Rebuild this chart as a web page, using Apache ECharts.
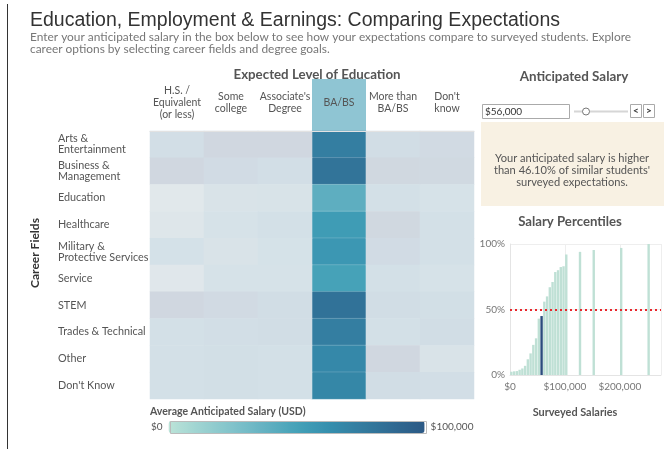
<!DOCTYPE html>
<html>
<head>
<meta charset="utf-8">
<script src="https://cdn.jsdelivr.net/npm/echarts/dist/echarts.min.js"></script>
<style>
  html, body { margin: 0; padding: 0; background: #fff; }
  #chart { width: 664px; height: 449px; }
</style>
</head>
<body>
<div id="chart"></div>
<script>
// categories
const educationLevels = ['H.S. /\nEquivalent\n(or less)', 'Some\ncollege', "Associate's\nDegree", 'BA/BS', 'More than\nBA/BS', "Don't\nknow"];
const careerFields = ['Arts &\nEntertainment', 'Business &\nManagement', 'Education', 'Healthcare',
  'Military &\nProtective Services', 'Service', 'STEM', 'Trades & Technical', 'Other', "Don't Know"];
const selectedLevel = 'BA/BS';

// average anticipated salary (USD), one array per education level, rows follow careerFields
const hsEquivalent = [60000, 85000, 25000, 30000, 50000, 27000, 85000, 52000, 52000, 52000];
const someCollege  = [85000, 70000, 40000, 45000, 40000, 45000, 75000, 60000, 56000, 58000];
const associates   = [85000, 60000, 42000, 55000, 48000, 45000, 65000, 64000, 53000, 54000];
const baBs         = [74000, 81000, 40000, 54000, 57000, 50000, 82000, 74000, 67000, 68000];
const moreThanBa   = [62000, 82000, 52000, 82000, 70000, 55000, 65000, 55000, 85000, 62000];
const dontKnow     = [75000, 80000, 45000, 55000, 52000, 45000, 58000, 63000, 40000, 60000];
const salaryColumns = [hsEquivalent, someCollege, associates, baBs, moreThanBa, dontKnow];

// salary percentiles of surveyed students (bin start in USD, cumulative share)
const salaryBins = [0, 5000, 10000, 15000, 20000, 25000, 30000, 35000, 40000, 45000, 50000, 55000,
  60000, 65000, 70000, 75000, 80000, 85000, 90000, 95000, 100000, 125000, 150000, 200000, 250000];
const percentiles = [0.025, 0.028, 0.03, 0.04, 0.05, 0.07, 0.12, 0.165, 0.23, 0.28, 0.43, 0.45,
  0.56, 0.60, 0.67, 0.71, 0.786, 0.80, 0.824, 0.83, 0.92, 0.94, 0.954, 0.97, 1.0];
const binWidth = 5000;
const anticipatedSalary = 56000;
const shareBelow = 46.10;

const FONT = 'Lato';
const palette = ['#bce4d8','#aedcd5','#a1d5d2','#95cecf','#89c8cc','#7ec1ca','#72bac6','#66b2c2','#59acbe','#4ba5ba',
  '#419eb6','#3b96b2','#358ead','#3586a7','#347ea1','#32779b','#316f96','#2f6790','#2d608a','#2c5985'];

// tableau fades the marks that are not selected
function fade(hex) {
  const bg = [248, 241, 243];
  const c = [1, 3, 5].map(i => parseInt(hex.substr(i, 2), 16));
  return 'rgb(' + c.map((v, i) => Math.round(0.2 * v + 0.8 * bg[i])).join(',') + ')';
}
const fadedPalette = palette.map(fade);

const selIdx = educationLevels.indexOf(selectedLevel);
const selectedCells = [], otherCells = [];
salaryColumns.forEach((col, x) => {
  col.forEach((v, y) => {
    (x === selIdx ? selectedCells : otherCells).push([x, y, v]);
  });
});

const barData = salaryBins.map((b, i) => ({
  value: [b + binWidth / 2, percentiles[i]],
  itemStyle: { color: (anticipatedSalary >= b && anticipatedSalary < b + binWidth) ? '#2b4c7d' : '#bfe0d5' }
}));

const chart = echarts.init(document.getElementById('chart'));

const txt = (x, y, text, font, fill, align, extra) => ({
  type: 'text', z: 10,
  style: Object.assign({ x: x, y: y, text: text, font: font, fill: fill, align: align || 'left', verticalAlign: 'middle' }, extra || {})
});

const option = {
  animation: false,
  textStyle: { fontFamily: FONT },
  grid: [
    { left: 150, top: 131, width: 324, height: 268 },
    { left: 510, top: 244, width: 154, height: 131 }
  ],
  xAxis: [
    {
      gridIndex: 0, type: 'category', data: educationLevels, position: 'top', z: 5,
      axisLine: { show: true, lineStyle: { color: '#e2e2e2' } },
      axisTick: { show: false },
      axisLabel: { interval: 0, margin: 28, verticalAlign: 'middle', lineHeight: 12, fontSize: 10.5, color: '#555', fontFamily: FONT }
    },
    {
      gridIndex: 1, type: 'value', min: 0, max: 275000, interval: 100000,
      axisLine: { show: true, lineStyle: { color: '#e4e4e4' } },
      axisTick: { show: false },
      splitLine: { show: true, lineStyle: { color: '#eeeeee' } },
      axisLabel: {
        fontSize: 10, color: '#777', margin: 7, fontFamily: FONT,
        formatter: v => v % 100000 === 0 ? '$' + v.toLocaleString('en-US') : ''
      }
    }
  ],
  yAxis: [
    {
      gridIndex: 0, type: 'category', data: careerFields, inverse: true,
      axisLine: { show: false }, axisTick: { show: false },
      axisLabel: { interval: 0, margin: 92, align: 'left', lineHeight: 11, fontSize: 10.8, color: '#555', fontFamily: FONT }
    },
    {
      gridIndex: 1, type: 'value', min: 0, max: 1, interval: 0.5,
      axisLine: { show: true, lineStyle: { color: '#e4e4e4' } },
      axisTick: { show: false },
      splitLine: { show: true, lineStyle: { color: '#eeeeee' } },
      axisLabel: { fontSize: 10, color: '#777', margin: 5, fontFamily: FONT, formatter: v => Math.round(v * 100) + '%' }
    }
  ],
  visualMap: [
    {
      type: 'continuous', seriesIndex: 0, min: 0, max: 100000, calculable: false, hoverLink: false,
      inRange: { color: palette },
      orient: 'horizontal', left: 151, top: 421, padding: 0,
      itemWidth: 12, itemHeight: 256, text: ['$100,000', '$0'], textGap: 6,
      textStyle: { color: '#555', fontSize: 10, fontFamily: FONT }
    },
    {
      type: 'continuous', seriesIndex: 1, min: 0, max: 100000, show: false,
      inRange: { color: fadedPalette }
    }
  ],
  series: [
    { type: 'heatmap', xAxisIndex: 0, yAxisIndex: 0, data: selectedCells, emphasis: { disabled: true },
      itemStyle: { borderColor: 'rgba(255,255,255,0.35)', borderWidth: 0.5 } },
    { type: 'heatmap', xAxisIndex: 0, yAxisIndex: 0, data: otherCells, emphasis: { disabled: true } },
    {
      type: 'bar', xAxisIndex: 1, yAxisIndex: 1, data: barData, barWidth: 2.4,
      markLine: {
        silent: true, symbol: 'none', label: { show: false },
        lineStyle: { color: '#e8262b', type: [2, 3], width: 2 },
        data: [{ yAxis: 0.5 }]
      }
    }
  ],
  graphic: [
    { type: 'line', shape: { x1: 7.5, y1: 4, x2: 7.5, y2: 449 }, style: { stroke: '#333', lineWidth: 1 } },
    txt(30, 21, 'Education, Employment & Earnings: Comparing Expectations', '19.5px "Liberation Sans"', '#333'),
    txt(30, 37, 'Enter your anticipated salary in the box below to see how your expectations compare to surveyed students. Explore', '11.9px ' + FONT, '#777'),
    txt(30, 49, 'career options by selecting career fields and degree goals.', '11.9px ' + FONT, '#777'),
    // highlight band behind the selected column header
    { type: 'rect', z: 0, shape: { x: 312, y: 79, width: 54, height: 52 }, style: { fill: '#8fc5d3' } },
    txt(317, 75, 'Expected Level of Education', 'bold 13.3px ' + FONT, '#555', 'center'),
    { type: 'text', z: 10, x: 35, y: 253, rotation: Math.PI / 2,
      style: { x: 0, y: 0, text: 'Career Fields', font: 'bold 12px ' + FONT, fill: '#333', align: 'center', verticalAlign: 'middle' } },
    txt(150, 412, 'Average Anticipated Salary (USD)', 'bold 10.5px ' + FONT, '#555'),
    { type: 'rect', z: 11, shape: { x: 170.5, y: 421.5, width: 256, height: 12 }, style: { fill: 'none', stroke: '#bbb', lineWidth: 1 } },
    // anticipated salary controls
    txt(574, 77, 'Anticipated Salary', 'bold 13.4px ' + FONT, '#555', 'center'),
    { type: 'rect', shape: { x: 482.5, y: 104.5, width: 87, height: 14 }, style: { fill: '#fff', stroke: '#aaa', lineWidth: 1 } },
    txt(485, 112, '$' + anticipatedSalary.toLocaleString('en-US'), '10px ' + FONT, '#333'),
    { type: 'line', shape: { x1: 574, y1: 111.5, x2: 628, y2: 111.5 }, style: { stroke: '#d6d6d6', lineWidth: 2 } },
    { type: 'circle', z: 11, shape: { cx: 586, cy: 111.5, r: 3.5 }, style: { fill: '#fff', stroke: '#777', lineWidth: 1 } },
    { type: 'rect', shape: { x: 630.5, y: 104.5, width: 11, height: 13 }, style: { fill: '#fff', stroke: '#aaa', lineWidth: 1 } },
    { type: 'rect', shape: { x: 643.5, y: 104.5, width: 11, height: 13 }, style: { fill: '#fff', stroke: '#aaa', lineWidth: 1 } },
    txt(636, 111, '<', 'bold 10px ' + FONT, '#333', 'center'),
    txt(649, 111, '>', 'bold 10px ' + FONT, '#333', 'center'),
    { type: 'rect', shape: { x: 481, y: 122, width: 183, height: 84 }, style: { fill: '#f8f1e3' } },
    txt(572, 158, 'Your anticipated salary is higher', '11.1px ' + FONT, '#555', 'center'),
    txt(572, 170, 'than ' + shareBelow.toFixed(2) + "% of similar students'", '11.1px ' + FONT, '#555', 'center'),
    txt(572, 182, 'surveyed expectations.', '11.1px ' + FONT, '#555', 'center'),
    txt(570, 222, 'Salary Percentiles', 'bold 13.2px ' + FONT, '#555', 'center'),
    txt(575, 412, 'Surveyed Salaries', 'bold 10.9px ' + FONT, '#555', 'center')
  ]
};

chart.setOption(option);
</script>
</body>
</html>
